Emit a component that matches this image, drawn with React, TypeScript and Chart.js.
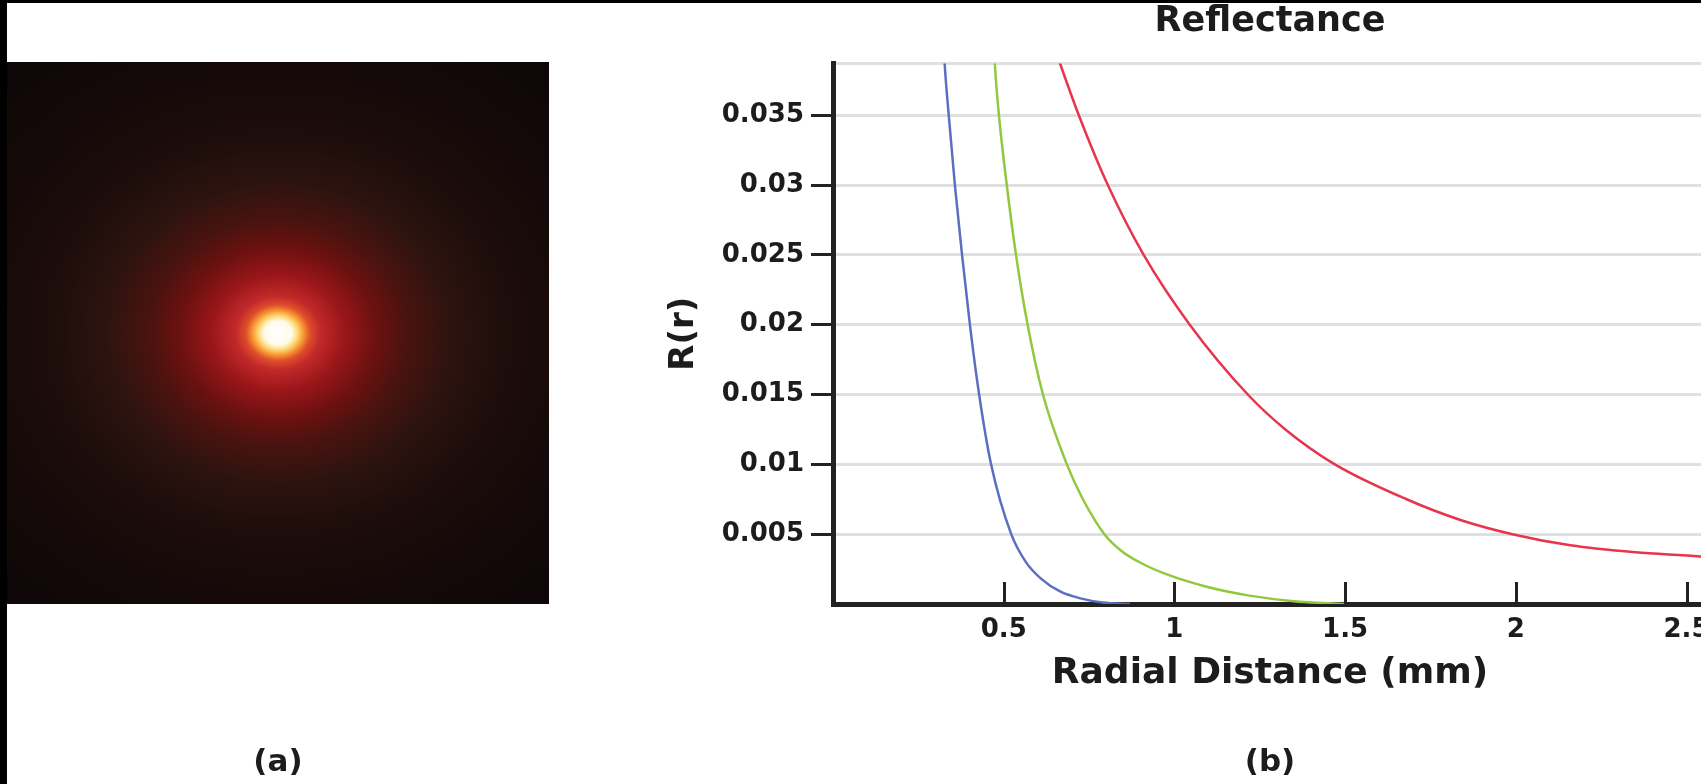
import React, { useEffect, useRef } from "react";
import { Chart, registerables } from "chart.js";

Chart.register(...registerables);

// ---- data ----
const blueX = [0.318, 0.327, 0.339, 0.357, 0.378, 0.401, 0.428, 0.463, 0.522, 0.565, 0.61, 0.665, 0.725, 0.79, 0.87];
const blueY = [0.043, 0.0387, 0.035, 0.03, 0.025, 0.02, 0.015, 0.01, 0.005, 0.003, 0.0018, 0.0009, 0.0004, 0.0001, 0.0];

const greenX = [0.466, 0.474, 0.486, 0.509, 0.536, 0.57, 0.615, 0.685, 0.732, 0.795, 0.845, 0.905, 0.98, 1.1, 1.22, 1.35, 1.5];
const greenY = [0.043, 0.0387, 0.035, 0.03, 0.025, 0.02, 0.015, 0.01, 0.0075, 0.005, 0.0038, 0.0029, 0.0021, 0.0012, 0.0006, 0.0002, 0.0];

const redX = [0.618, 0.665, 0.72, 0.805, 0.91, 1.045, 1.215, 1.325, 1.47, 1.68, 1.84, 1.99, 2.16, 2.35, 2.54, 2.58];
const redY = [0.042, 0.0387, 0.035, 0.03, 0.025, 0.02, 0.015, 0.0125, 0.01, 0.0075, 0.006, 0.005, 0.0042, 0.0037, 0.0034, 0.0033];

const xTickValues = [0.5, 1, 1.5, 2, 2.5];
const xTickLabels = ["0.5", "1", "1.5", "2", "2.5"];
const yTickValues = [0.005, 0.01, 0.015, 0.02, 0.025, 0.03, 0.035];
const yTickLabels = ["0.005", "0.01", "0.015", "0.02", "0.025", "0.03", "0.035"];

const X_MIN = 0;
const X_MAX = 2.56;
const Y_MIN = 0;
const Y_MAX = 0.0387;

const chartTitle = "Reflectance";
const xAxisTitle = "Radial Distance (mm)";
const yAxisTitle = "R(r)";
const panelLabels = ["(a)", "(b)"];

const FONT = "'DejaVu Sans', 'Liberation Sans', sans-serif";
const INK = "#1c1c1c";
const CANVAS_W = 1740;
const CANVAS_H = 784;

const toPoints = (xs: number[], ys: number[]) => xs.map((x, i) => ({ x, y: ys[i] }));

const decorPlugin = {
  id: "decor",
  beforeDraw(chart: any) {
    const ctx = chart.ctx as CanvasRenderingContext2D;
    ctx.save();
    ctx.fillStyle = "#ffffff";
    ctx.fillRect(0, 0, chart.width, chart.height);
    // panel (a): reflectance spot image
    const bx = 7, by = 62, bw = 542, bh = 542;
    const cx = bx + bw / 2, cy = by + bh / 2;
    ctx.beginPath();
    ctx.rect(bx, by, bw, bh);
    ctx.clip();
    ctx.fillStyle = "#0f0707";
    ctx.fillRect(bx, by, bw, bh);
    ctx.translate(cx, cy);
    ctx.scale(1.15, 1);
    const R = 340;
    const g = ctx.createRadialGradient(0, 0, 0, 0, 0, R);
    const stops: [number, string][] = [
      [0, "#ffffff"],
      [12, "#fffbea"],
      [17, "#ffd978"],
      [22, "#f79a34"],
      [28, "#de4e2a"],
      [37, "#c2292a"],
      [58, "#9a1619"],
      [85, "#6d1110"],
      [112, "#4a130f"],
      [150, "#2d130f"],
      [200, "#1d0d0b"],
      [260, "#150a09"],
      [340, "#0f0707"],
    ];
    stops.forEach(([r, c]) => g.addColorStop(r / R, c));
    ctx.fillStyle = g;
    ctx.fillRect(-cx, -cy - 10, chart.width, chart.height + 20);
    ctx.restore();
  },
  afterDraw(chart: any) {
    const ctx = chart.ctx as CanvasRenderingContext2D;
    const xs = chart.scales.x;
    const area = chart.chartArea;
    ctx.save();
    // inward x tick marks
    ctx.strokeStyle = "#222222";
    ctx.lineWidth = 3;
    xTickValues.forEach((v) => {
      const px = Math.round(xs.getPixelForValue(v)) + 0.5;
      ctx.beginPath();
      ctx.moveTo(px, area.bottom);
      ctx.lineTo(px, area.bottom - 22);
      ctx.stroke();
    });
    // panel labels
    ctx.fillStyle = INK;
    ctx.font = `bold 31px ${FONT}`;
    ctx.textAlign = "center";
    ctx.textBaseline = "middle";
    ctx.fillText(panelLabels[0], 278, 763);
    ctx.fillText(panelLabels[1], (area.left + area.right) / 2, 763);
    // black frame strips
    ctx.fillStyle = "#000000";
    ctx.fillRect(0, 0, chart.width, 3);
    ctx.fillRect(0, 0, 7, chart.height);
    ctx.restore();
  },
};

export default function App() {
  const canvasRef = useRef<HTMLCanvasElement | null>(null);

  useEffect(() => {
    document.body.style.margin = "0";
    document.body.style.overflow = "hidden";
    const canvas = canvasRef.current;
    if (!canvas) return;
    const chart = new Chart(canvas, {
      type: "line",
      data: {
        datasets: [
          {
            label: "blue",
            data: toPoints(blueX, blueY),
            borderColor: "#5b6fc2",
            borderWidth: 2.5,
            pointRadius: 0,
            cubicInterpolationMode: "monotone",
            fill: false,
          },
          {
            label: "green",
            data: toPoints(greenX, greenY),
            borderColor: "#92c83e",
            borderWidth: 2.5,
            pointRadius: 0,
            cubicInterpolationMode: "monotone",
            fill: false,
          },
          {
            label: "red",
            data: toPoints(redX, redY),
            borderColor: "#e6354c",
            borderWidth: 2.5,
            pointRadius: 0,
            cubicInterpolationMode: "monotone",
            fill: false,
          },
        ],
      },
      options: {
        responsive: false,
        animation: false,
        devicePixelRatio: 1,
        layout: { padding: { left: 667, right: CANVAS_W - 1707, top: 0, bottom: 92 } },
        plugins: {
          legend: { display: false },
          tooltip: { enabled: false },
          title: {
            display: true,
            text: chartTitle,
            fullSize: false,
            color: INK,
            font: { family: FONT, size: 35, weight: "bold", lineHeight: 0.9 },
            padding: { top: 6, bottom: 26 },
          },
        },
        scales: {
          x: {
            type: "linear",
            min: X_MIN,
            max: X_MAX,
            afterBuildTicks: (scale: any) => {
              scale.ticks = xTickValues.map((v) => ({ value: v }));
            },
            afterFit: (scale: any) => {
              scale.height = 88;
            },
            grid: { display: true, drawOnChartArea: false, drawTicks: false },
            border: { display: true, width: 5, color: "#222222" },
            ticks: {
              autoSkip: false,
              maxRotation: 0,
              padding: 11,
              color: INK,
              font: { family: FONT, size: 26, weight: "bold" },
              callback: (_v: any, i: number) => xTickLabels[i] ?? "",
            },
            title: {
              display: true,
              text: xAxisTitle,
              color: INK,
              font: { family: FONT, size: 36, weight: "bold", lineHeight: 1 },
              padding: { top: 0, bottom: 0 },
            },
          },
          y: {
            type: "linear",
            min: Y_MIN,
            max: Y_MAX,
            afterBuildTicks: (scale: any) => {
              scale.ticks = [...yTickValues, Y_MAX].map((v) => ({ value: v }));
            },
            afterFit: (scale: any) => {
              scale.width = 166;
            },
            grid: {
              display: true,
              drawOnChartArea: true,
              drawTicks: true,
              color: "#e0e0e0",
              lineWidth: 3,
              tickLength: 22,
              tickWidth: 3,
              tickColor: (c: any) => (c.index < yTickValues.length ? "#222222" : "rgba(0,0,0,0)"),
            },
            border: { display: true, width: 5, color: "#222222" },
            ticks: {
              autoSkip: false,
              padding: 7,
              color: INK,
              font: { family: FONT, size: 26, weight: "bold" },
              callback: (_v: any, i: number) => yTickLabels[i] ?? "",
            },
            title: {
              display: true,
              text: yAxisTitle,
              color: INK,
              font: { family: FONT, size: 34, weight: "bold", lineHeight: 1 },
              padding: { top: 0, bottom: 0 },
            },
          },
        },
      },
      plugins: [decorPlugin],
    });
    return () => chart.destroy();
  }, []);

  return (
    <div
      style={{
        position: "fixed",
        left: 0,
        top: 0,
        width: 1701,
        height: 784,
        overflow: "hidden",
        background: "#ffffff",
      }}
    >
      <canvas
        ref={canvasRef}
        width={CANVAS_W}
        height={CANVAS_H}
        style={{ display: "block", width: CANVAS_W, height: CANVAS_H }}
      />
    </div>
  );
}
